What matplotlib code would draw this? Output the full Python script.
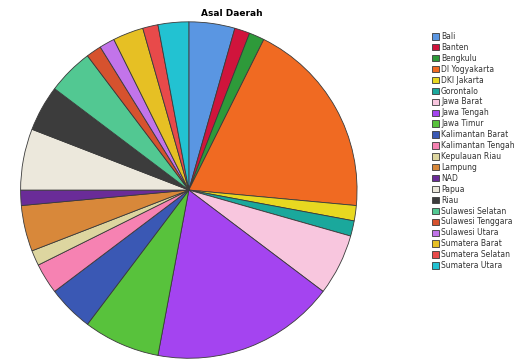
import matplotlib.pyplot as plt

# data
daerah = ['Bali', 'Banten', 'Bengkulu', 'DI Yogyakarta', 'DKI Jakarta', 'Gorontalo',
          'Jawa Barat', 'Jawa Tengah', 'Jawa Timur', 'Kalimantan Barat',
          'Kalimantan Tengah', 'Kepulauan Riau', 'Lampung', 'NAD', 'Papua', 'Riau',
          'Sulawesi Selatan', 'Sulawesi Tenggara', 'Sulawesi Utara', 'Sumatera Barat',
          'Sumatera Selatan', 'Sumatera Utara']
jumlah = [3, 1, 1, 13, 1, 1, 4, 12, 5, 3, 2, 1, 3, 1, 4, 3, 3, 1, 1, 2, 1, 2]
warna = ['#5a96e2', '#d0143c', '#2e9a3a', '#f06a22', '#e8d820', '#1aa89c',
         '#f8c6de', '#a444f0', '#58c23c', '#3a58b4', '#f682b2', '#ddd6a0',
         '#d8883a', '#6a2c98', '#ece8dc', '#3c3c3c', '#52c892', '#d6522e',
         '#c274ea', '#e6c024', '#e84a4a', '#22c2d2']

fig = plt.figure(figsize=(5.26, 3.62), dpi=100)
ax = fig.add_axes([0.036, 0.0055, 0.646, 0.939])
wedges, _ = ax.pie(jumlah, colors=warna, startangle=90, counterclock=False,
                   radius=1, wedgeprops=dict(edgecolor='#3a3a3a', linewidth=0.6))
ax.set_xlim(-1.01, 1.01)
ax.set_ylim(-1.01, 1.01)
ax.set_aspect('equal')

fig.text(232/526, 1-13/362, 'Asal Daerah', ha='center', va='center',
         fontsize=6.5, fontweight='bold')

fig.legend(wedges, daerah, loc='upper left', bbox_to_anchor=(0.815, 0.92),
           frameon=False, fontsize=5.5, handlelength=0.9, handleheight=0.9,
           handletextpad=0.3, labelspacing=0.25, borderaxespad=0,
           labelcolor='#333333')

plt.savefig('out.png', dpi=100)
